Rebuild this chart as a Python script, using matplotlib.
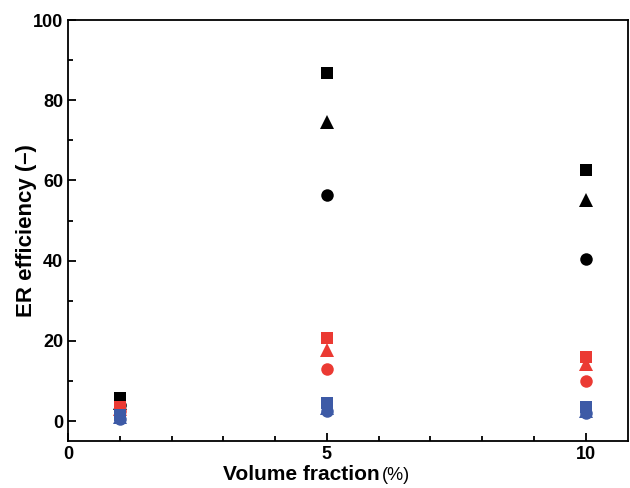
import numpy as np
import matplotlib.pyplot as plt
from matplotlib.ticker import MultipleLocator

plt.rcParams['font.family'] = ['Liberation Sans', 'DejaVu Sans']

# Volume fraction (%)
vol = [1, 5, 10]

# ER efficiency, three field strengths per particle type
black_sq = [5.8, 86.7, 62.6]
black_tri = [4.6, 74.5, 55.0]
black_ci = [4.0, 56.3, 40.3]
red_sq = [3.6, 20.7, 16.0]
red_tri = [3.0, 17.7, 14.2]
red_ci = [2.4, 12.9, 9.9]
blue_sq = [1.4, 4.5, 3.4]
blue_tri = [0.9, 3.2, 2.6]
blue_ci = [0.4, 2.4, 2.0]

c_black = 'black'
c_red = '#eb3a33'
c_blue = '#3d5aa6'

fig = plt.figure(figsize=(6.3, 4.88), dpi=100)
ax = fig.add_axes([0.108, 0.096, 0.889, 0.863])

# drawing order: black under red under blue
series = [
    (black_ci, 'o', c_black, 9), (black_tri, '^', c_black, 9.5), (black_sq, 's', c_black, 8),
    (red_ci, 'o', c_red, 9), (red_tri, '^', c_red, 9.5), (red_sq, 's', c_red, 8),
    (blue_tri, '^', c_blue, 9.5), (blue_ci, 'o', c_blue, 9), (blue_sq, 's', c_blue, 8),
]
for vals, m, c, ms in series:
    ax.plot(vol, vals, linestyle='none', marker=m, color=c, markersize=ms,
            markeredgewidth=0)

ax.set_xlim(0, 10.82)
ax.set_ylim(-5, 100)
ax.xaxis.set_major_locator(MultipleLocator(5))
ax.xaxis.set_minor_locator(MultipleLocator(1))
ax.yaxis.set_major_locator(MultipleLocator(20))
ax.yaxis.set_minor_locator(MultipleLocator(10))
ax.tick_params(which='both', direction='in', width=1.3, top=False, right=False)
ax.tick_params(which='major', length=6, labelsize=13, pad=3.5)
ax.tick_params(which='minor', length=3.5)
for lab in ax.get_xticklabels() + ax.get_yticklabels():
    lab.set_fontweight('bold')
for s in ax.spines.values():
    s.set_linewidth(1.3)

ax.set_ylabel('ER efficiency (\u2013)', fontsize=16, fontweight='bold')
ax.yaxis.set_label_coords(-0.056, 0.5)
fig.text(0.602, 0.008, 'Volume fraction', fontsize=15, fontweight='bold',
         ha='right', va='bottom')
fig.text(0.606, 0.008, '(%)', fontsize=13, ha='left', va='bottom')

fig.savefig('out.png', dpi=100)
